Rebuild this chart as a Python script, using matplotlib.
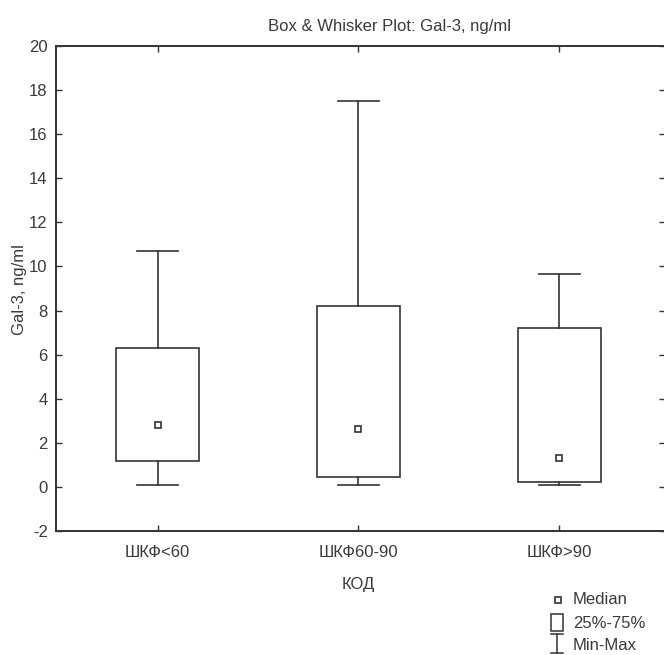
import matplotlib
matplotlib.use("Agg")
import matplotlib.pyplot as plt
from matplotlib.patches import Rectangle
from matplotlib.lines import Line2D

categories = ["ШКФ<60", "ШКФ60-90", "ШКФ>90"]
mins = [0.1, 0.1, 0.1]
q1s = [1.18, 0.45, 0.23]
medians = [2.8, 2.63, 1.3]
q3s = [6.3, 8.2, 7.2]
maxs = [10.7, 17.5, 9.65]
yticks = [-2, 0, 2, 4, 6, 8, 10, 12, 14, 16, 18, 20]

plt.rcParams['font.family'] = ['Liberation Sans', 'DejaVu Sans']
plt.rcParams['axes.unicode_minus'] = False
C = '#333333'
TC = '#3a3a3a'
FS = 12
W, H = 664, 655
fig = plt.figure(figsize=(W / 100, H / 100), dpi=100)
ax = fig.add_axes([56 / W, (H - 531) / H, (665 - 56) / W, (531 - 46) / H])

box_w = 0.41
cap_w = 0.2
for i, cat in enumerate(categories):
    x = i + 1
    ax.add_patch(Rectangle((x - box_w / 2, q1s[i]), box_w, q3s[i] - q1s[i],
                           fill=False, edgecolor=C, lw=1.2))
    ax.plot([x, x], [q3s[i], maxs[i]], color=C, lw=1.2)
    ax.plot([x, x], [mins[i], q1s[i]], color=C, lw=1.2)
    ax.plot([x - cap_w / 2, x + cap_w / 2], [maxs[i], maxs[i]], color=C, lw=1.2)
    ax.plot([x - cap_w / 2, x + cap_w / 2], [mins[i], mins[i]], color=C, lw=1.2)
    ax.plot([x], [medians[i]], marker='s', ms=5, mfc='white', mec=C, mew=1.2)

ax.set_xlim(0.495, 3.525)
ax.set_ylim(-2, 20)
ax.set_yticks(yticks)
ax.set_xticks([1, 2, 3])
ax.set_xticklabels(categories)
ax.tick_params(direction='in', length=4, width=1, color=C, labelsize=FS,
               labelcolor=TC, top=True, right=True)
ax.tick_params(axis='x', pad=10)
ax.tick_params(axis='y', pad=6)
ax.spines['right'].set_visible(False)
for s in ax.spines.values():
    s.set_color(C)
    s.set_linewidth(1.4)

fig.text(389 / W, 1 - 27 / H, "Box & Whisker Plot: Gal-3, ng/ml", ha='center', va='center',
         fontsize=FS, color=TC)
fig.text(20 / W, 1 - 290 / H, "Gal-3, ng/ml", rotation=90, ha='center', va='center',
         fontsize=FS, color=TC)
fig.text(358 / W, 1 - 584 / H, "КОД", ha='center', va='center', fontsize=FS, color=TC)

# legend
def fx(px):
    return px / W
def fy(py):
    return 1 - py / H

fig.add_artist(Line2D([fx(558)], [fy(600)], marker='s', ms=4.5, mfc='white', mec=C, mew=1.2,
                      transform=fig.transFigure))
fig.add_artist(Rectangle((fx(551), fy(631)), fx(563) - fx(551), fy(614) - fy(631),
                         fill=False, edgecolor=C, lw=1.1, transform=fig.transFigure))
fig.add_artist(Line2D([fx(557), fx(557)], [fy(634), fy(653)], color=C, lw=1.1,
                      transform=fig.transFigure))
fig.add_artist(Line2D([fx(551), fx(563)], [fy(634), fy(634)], color=C, lw=1.1,
                      transform=fig.transFigure))
fig.add_artist(Line2D([fx(551), fx(563)], [fy(653), fy(653)], color=C, lw=1.1,
                      transform=fig.transFigure))
for t, py in [("Median", 600), ("25%-75%", 623), ("Min-Max", 646)]:
    fig.text(fx(573), fy(py), t, ha='left', va='center', fontsize=FS, color=TC)

fig.savefig("out.png", dpi=100, facecolor='white')
